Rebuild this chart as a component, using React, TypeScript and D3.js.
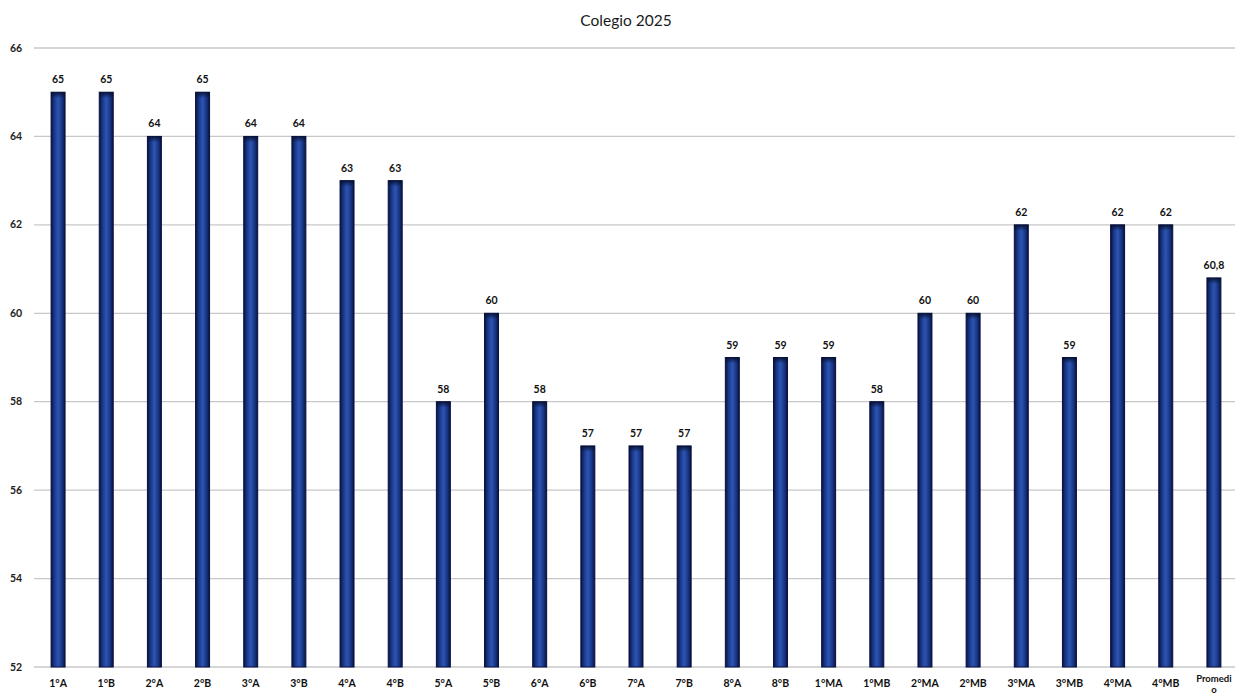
import React from "react";
import * as d3 from "d3";

const categories = ["1°A","1°B","2°A","2°B","3°A","3°B","4°A","4°B","5°A","5°B","6°A","6°B","7°A","7°B","8°A","8°B","1°MA","1°MB","2°MA","2°MB","3°MA","3°MB","4°MA","4°MB","Promedio"];
const values = [65,65,64,65,64,64,63,63,58,60,58,57,57,57,59,59,59,58,60,60,62,59,62,62,60.8];
const yTicks = [52,54,56,58,60,62,64,66];
const title = "Colegio 2025";

export default function App() {
  const W = 1235, H = 696;
  const left = 34, right = 1238, top = 48, bottom = 667;
  const x = d3.scaleBand<string>().domain(categories).range([left, right]).paddingInner(0.71).paddingOuter(0.355);
  const y = d3.scaleLinear().domain([52, 66]).range([bottom, top]);
  const bw = x.bandwidth();
  const font = "Lato, 'Open Sans', sans-serif";
  const fmt = (v: number) => (Number.isInteger(v) ? String(v) : String(v).replace(".", ","));
  return (
    <svg width={W} height={H} style={{ position: "absolute", left: 0, top: 0, background: "#fff" }} fontFamily={font}>
      <defs>
        <linearGradient id="barGrad" x1="0" x2="1" y1="0" y2="0">
          <stop offset="0%" stopColor="#081340" />
          <stop offset="22%" stopColor="#1a3585" />
          <stop offset="50%" stopColor="#2b56b2" />
          <stop offset="78%" stopColor="#1a3585" />
          <stop offset="100%" stopColor="#081340" />
        </linearGradient>
        <linearGradient id="topGrad" x1="0" x2="0" y1="0" y2="1">
          <stop offset="0%" stopColor="#061030" stopOpacity={0.9} />
          <stop offset="100%" stopColor="#061030" stopOpacity={0} />
        </linearGradient>
      </defs>
      <rect x={0} y={0} width={W} height={H} fill="#fff" />
      <text x={626} y={26} textAnchor="middle" fontSize={15.5} fill="#1a1a1a">{title}</text>
      {yTicks.map((t) => (
        <g key={t}>
          <line x1={left} x2={W} y1={y(t)} y2={y(t)} stroke="#c8c8c8" strokeWidth={1.3} />
          <text x={16} y={y(t) + 3.5} textAnchor="middle" fontSize={10.5} fontWeight={700} fill="#222">{t}</text>
        </g>
      ))}
      {categories.map((c, i) => {
        const bx = x(c)!;
        const by = y(values[i]);
        const cx = bx + bw / 2;
        return (
          <g key={c}>
            <rect x={bx} y={by} width={bw} height={bottom - by} fill="url(#barGrad)" stroke="#071040" strokeWidth={1} />
            <rect x={bx} y={by} width={bw} height={6} fill="url(#topGrad)" />
            <text x={cx} y={by - 9} textAnchor="middle" fontSize={10.5} fontWeight={700} fill="#111">{fmt(values[i])}</text>
            {c === "Promedio" ? (
              <>
                <text x={cx} y={682} textAnchor="middle" fontSize={9.5} fontWeight={700} fill="#111">Promedi</text>
                <text x={cx} y={693} textAnchor="middle" fontSize={9.5} fontWeight={700} fill="#111">o</text>
              </>
            ) : (
              <text x={cx} y={687} textAnchor="middle" fontSize={10.5} fontWeight={700} fill="#111">{c}</text>
            )}
          </g>
        );
      })}
    </svg>
  );
}
